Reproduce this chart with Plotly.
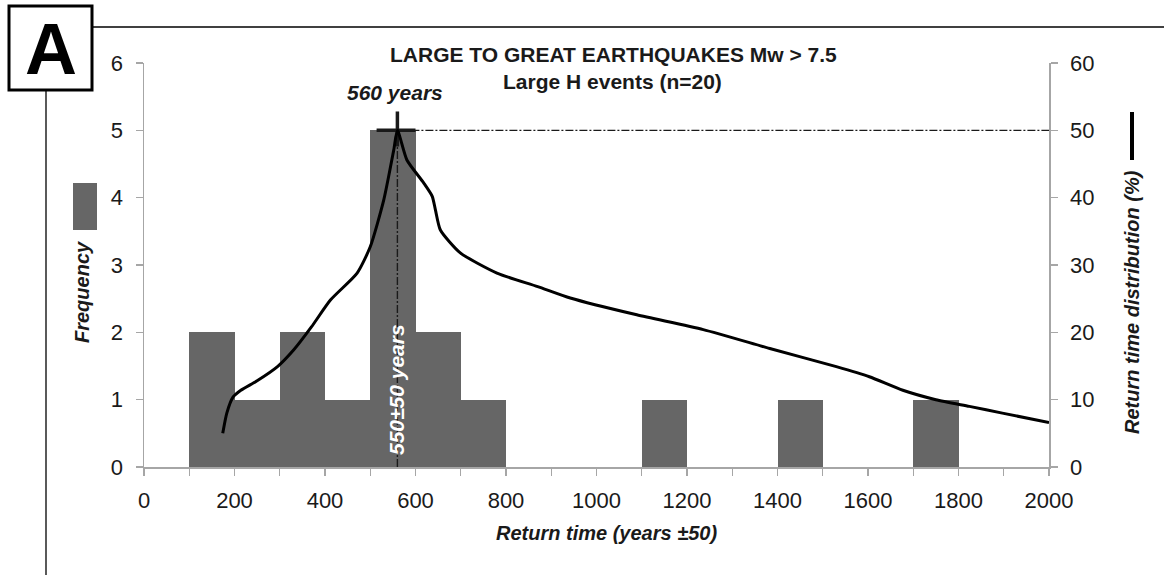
import plotly.graph_objects as go

# ---------------- data ----------------
bin_centers = [150, 250, 350, 450, 550, 650, 750, 1150, 1450, 1750]
frequency = [2, 1, 2, 1, 5, 2, 1, 1, 1, 1]
bin_width = 100

curve_years = [174, 183, 197, 214, 250, 295, 331, 370, 412, 471, 500, 530, 552, 560,
               581, 618, 637, 644, 655, 699, 780, 870, 942, 1089, 1236, 1383, 1530,
               1603, 1677, 1750, 1824, 1897, 2000]
curve_pct = [5.0, 8.0, 10.4, 11.4, 12.8, 14.9, 17.4, 20.8, 24.8, 28.8, 32.7, 39.7, 47.1, 50.0,
             45.6, 42.2, 40.2, 38.2, 35.2, 31.8, 28.8, 26.8, 25.1, 22.6, 20.4, 17.6, 14.9,
             13.4, 11.4, 10.0, 9.0, 8.0, 6.6]

peak_year = 560
peak_freq = 5
cross_x = [514, 600]
cross_y = [4.76, 5.28]
x_end = 2000

x_tick_vals = list(range(0, 2001, 200))
x_tick_text = [str(v) for v in x_tick_vals]

# ---------------- layout geometry (page pixels) ----------------
PAGE_W, PAGE_H = 1164, 575
W_PX, H_PX = PAGE_W, PAGE_H
L, R, T, B = 144, 1049, 63, 467
PW, PH = R - L, B - T


def px(xp):
    return (xp - L) / PW


def py(yp):
    return (B - yp) / PH


AXIS_GRAY = "#a6a6a6"
TXT = "#1a1a1a"
FONT = "Liberation Sans, Arial, sans-serif"
BAR_GRAY = "#666666"

fig = go.Figure()

fig.add_trace(go.Bar(x=bin_centers, y=frequency, width=[bin_width] * len(bin_centers),
                     marker=dict(color=BAR_GRAY, line=dict(width=0)),
                     yaxis="y", showlegend=False, hoverinfo="skip"))

# dash-dot reference lines
fig.add_trace(go.Scatter(x=[peak_year, peak_year], y=[0, peak_freq], mode="lines",
                         line=dict(color="#1a1a1a", width=1.4, dash="8px,2px,2px,2px"),
                         yaxis="y", showlegend=False, hoverinfo="skip"))
fig.add_trace(go.Scatter(x=[peak_year, x_end], y=[peak_freq, peak_freq], mode="lines",
                         line=dict(color="#1a1a1a", width=1.4, dash="8px,2px,2px,2px"),
                         yaxis="y", showlegend=False, hoverinfo="skip"))

# cross marker at peak
fig.add_trace(go.Scatter(x=cross_x, y=[peak_freq, peak_freq], mode="lines",
                         line=dict(color="#1a1a1a", width=3.5),
                         yaxis="y", showlegend=False, hoverinfo="skip"))
fig.add_trace(go.Scatter(x=[peak_year, peak_year], y=cross_y, mode="lines",
                         line=dict(color="#1a1a1a", width=3.5),
                         yaxis="y", showlegend=False, hoverinfo="skip"))

# return time distribution curve
fig.add_trace(go.Scatter(x=curve_years, y=curve_pct, mode="lines",
                         line=dict(color="black", width=3, shape="spline", smoothing=0.6),
                         yaxis="y2", showlegend=False, hoverinfo="skip"))

shapes = [
    # box "A"
    dict(type="rect", xref="paper", yref="paper", x0=px(9), x1=px(92), y0=py(6), y1=py(90),
         line=dict(color="black", width=3), fillcolor="white"),
    # frame lines
    dict(type="line", xref="paper", yref="paper", x0=px(93), x1=px(PAGE_W), y0=py(27), y1=py(27),
         line=dict(color="black", width=1.3)),
    dict(type="line", xref="paper", yref="paper", x0=px(46), x1=px(46), y0=py(91), y1=py(PAGE_H),
         line=dict(color="black", width=1.3)),
    # legend symbols
    dict(type="rect", xref="paper", yref="paper", x0=px(73), x1=px(97), y0=py(183), y1=py(230),
         line=dict(width=0), fillcolor=BAR_GRAY),
    dict(type="line", xref="paper", yref="paper", x0=px(1132), x1=px(1132), y0=py(112), y1=py(160),
         line=dict(color="black", width=4)),
]

annotations = [
    dict(text="<b>A</b>", x=px(51), y=py(49), font=dict(size=72, color="black", family=FONT)),
    dict(text="<b>LARGE TO GREAT EARTHQUAKES Mw &gt; 7.5</b>", x=px(613), y=py(55),
         font=dict(size=21, color=TXT, family=FONT)),
    dict(text="<b>Large H events (n=20)</b>", x=px(612), y=py(81),
         font=dict(size=21, color=TXT, family=FONT)),
    dict(text="<b><i>560 years</i></b>", x=px(395), y=py(93),
         font=dict(size=21, color=TXT, family=FONT)),
    dict(text="<b><i>550±50 years</i></b>", x=px(396), y=py(390), textangle=-90,
         font=dict(size=21, color="white", family=FONT)),
    dict(text="<b><i>Frequency</i></b>", x=px(82), y=py(292), textangle=-90,
         font=dict(size=20, color=TXT, family=FONT)),
    dict(text="<b><i>Return time distribution (%)</i></b>", x=px(1132), y=py(302), textangle=-90,
         font=dict(size=20, color=TXT, family=FONT)),
    dict(text="<b><i>Return time (years ±50)</i></b>", x=px(606), y=py(533),
         font=dict(size=20, color=TXT, family=FONT)),
]
for a in annotations:
    a.update(xref="paper", yref="paper", showarrow=False, xanchor="center", yanchor="middle")

TICKFONT = dict(size=22, color=TXT, family=FONT)

fig.update_layout(
    width=W_PX, height=H_PX,
    margin=dict(l=L, r=W_PX - R, t=T, b=H_PX - B, autoexpand=False),
    paper_bgcolor="white", plot_bgcolor="white",
    bargap=0,
    hovermode=False,
    font=dict(family=FONT, color=TXT, size=20),
    xaxis=dict(range=[0, 2000], tickvals=x_tick_vals, ticktext=x_tick_text,
               showline=True, linecolor=AXIS_GRAY, linewidth=1.5,
               ticks="outside", ticklen=7, tickcolor=AXIS_GRAY, tickwidth=1.2,
               minor=dict(dtick=100, tick0=0, ticks="outside", ticklen=7,
                          tickcolor=AXIS_GRAY, tickwidth=1.2),
               showgrid=False, zeroline=False, ticklabelstandoff=6,
               tickfont=TICKFONT),
    yaxis=dict(range=[0, 6], dtick=1, showline=True, linecolor=AXIS_GRAY, linewidth=1.5,
               ticks="outside", ticklen=7, tickcolor=AXIS_GRAY, tickwidth=1.2,
               showgrid=False, zeroline=False, ticklabelstandoff=8,
               tickfont=TICKFONT),
    yaxis2=dict(range=[0, 60], dtick=10, overlaying="y", side="right",
                showline=True, linecolor=AXIS_GRAY, linewidth=1.5,
                ticks="outside", ticklen=7, tickcolor=AXIS_GRAY, tickwidth=1.2,
                showgrid=False, zeroline=False, ticklabelstandoff=8,
                tickfont=TICKFONT),
    shapes=shapes,
    annotations=annotations,
)

fig.write_html("out.html",
               config={"displayModeBar": False, "staticPlot": True},
               post_script="document.body.style.margin='0px';document.body.style.overflow='hidden';")
